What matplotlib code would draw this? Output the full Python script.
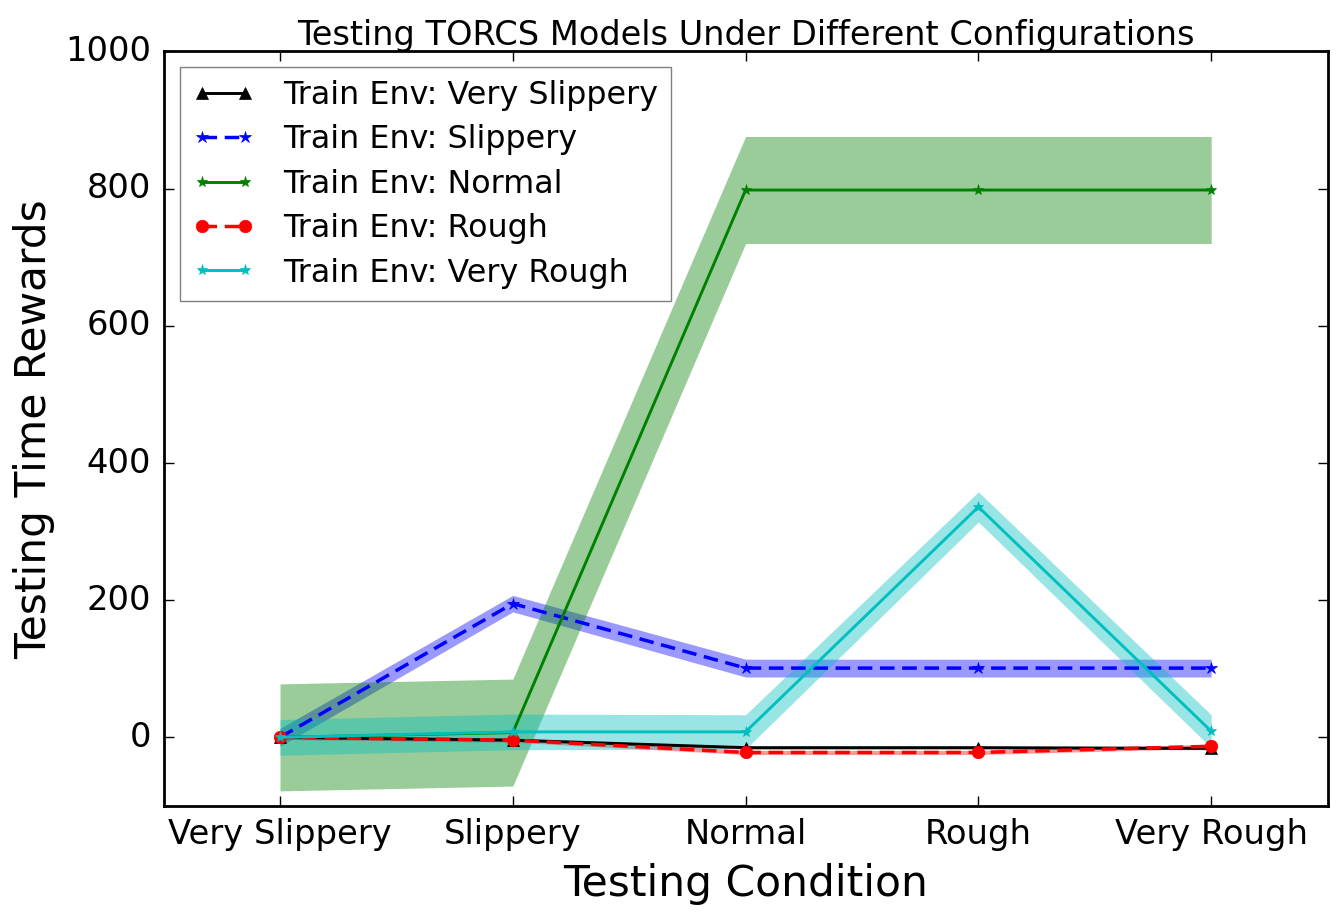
import numpy as np
import matplotlib
matplotlib.use('Agg')
import matplotlib.pyplot as plt

# Testing conditions (x axis)
conditions = ['Very Slippery', 'Slippery', 'Normal', 'Rough', 'Very Rough']

# Mean testing rewards per training environment
very_slippery = [0, -4, -15, -15, -16]
slippery = [0, 195, 101, 101, 101]
normal = [0, 7, 798, 798, 798]
rough = [0, -4, -22, -22, -13]
very_rough = [0, 8, 8, 336, 9]

# Spread (std) of the rewards
very_slippery_std = [2, 2, 2, 2, 2]
slippery_std = [13, 12, 13, 13, 13]
normal_std = [78, 78, 78, 78, 78]
rough_std = [3, 3, 3, 3, 3]
very_rough_std = [26, 26, 25, 22, 24]

series = [
    ('Train Env: Very Slippery', very_slippery, very_slippery_std, 'k', '-', '^', 9),
    ('Train Env: Slippery', slippery, slippery_std, 'b', '--', '*', 9),
    ('Train Env: Normal', normal, normal_std, 'g', '-', '*', 8),
    ('Train Env: Rough', rough, rough_std, 'r', '--', 'o', 9),
    ('Train Env: Very Rough', very_rough, very_rough_std, 'c', '-', '*', 8),
]

plt.style.use('classic')

fig, ax = plt.subplots(figsize=(13.41, 9.19), dpi=100)
fig.set_facecolor('white')

x = np.arange(len(conditions))
for label, mean, std, color, ls, marker, ms in series:
    mean = np.array(mean, dtype=float)
    std = np.array(std, dtype=float)
    line, = ax.plot(x, mean, color=color, linestyle=ls, marker=marker,
                    markersize=ms, markeredgecolor=color,
                    linewidth=2.5 if ls == '--' else 2.1, label=label)
    if ls == '--':
        line.set_dashes((10.5, 5.5))
    ax.fill_between(x, mean - std, mean + std, color=color,
                    alpha=0.4, linewidth=0)

ax.set_xlim(-0.5, len(conditions) - 0.5)
ax.set_ylim(-100, 1000)
ax.set_xticks(x)
ax.set_xticklabels(conditions)
ax.tick_params(labelsize=24.3, length=7, width=1, pad=9)
for spine in ax.spines.values():
    spine.set_linewidth(2)

ax.set_xlabel('Testing Condition', fontsize=30.5, labelpad=8)
ax.set_ylabel('Testing Time Rewards', fontsize=30.5, labelpad=7)
ax.set_title('Testing TORCS Models Under Different Configurations', fontsize=24.2)

leg = ax.legend(loc='upper left', fontsize=22.9, numpoints=2,
                handlelength=1.95, handletextpad=0.9, labelspacing=0.42)
leg.get_frame().set_edgecolor('gray')

fig.subplots_adjust(left=0.122, right=0.99, top=0.944, bottom=0.123)
fig.savefig('out.png', dpi=100, facecolor='white')
